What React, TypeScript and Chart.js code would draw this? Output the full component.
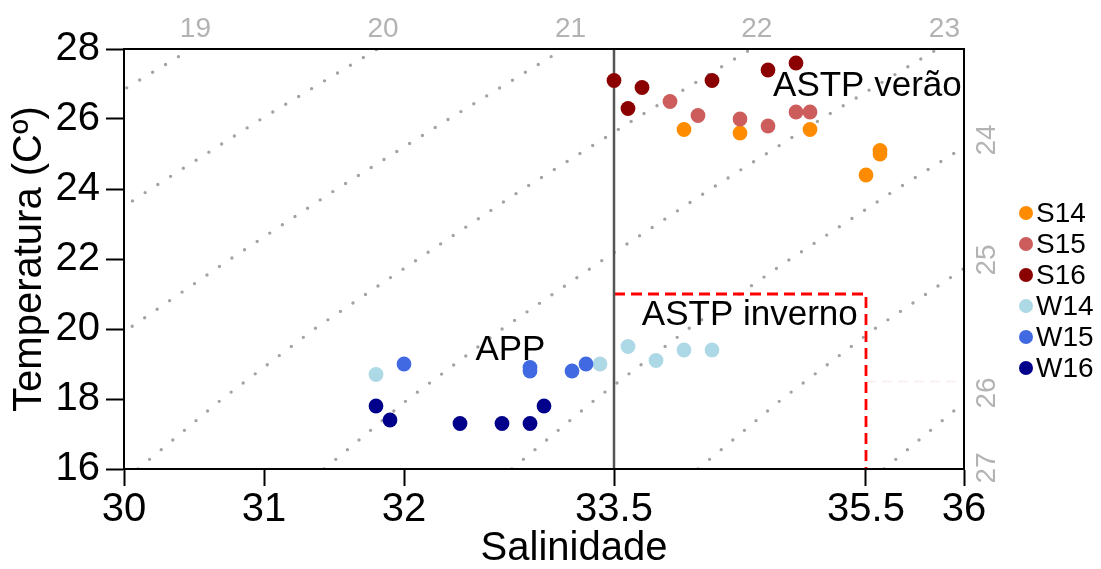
import React, { useEffect, useRef } from "react";
import { Chart, registerables } from "chart.js";

Chart.register(...registerables);

const FONT = "'Liberation Sans', Arial, Helvetica, sans-serif";

// ---- data ----
const seriesNames = ["S14", "S15", "S16", "W14", "W15", "W16"];
const seriesColors = ["#FF8C00", "#CD5C5C", "#8B0000", "#ADD8E6", "#4169E1", "#00008B"];

const s14Sal = [34.0, 34.4, 34.9, 35.4, 35.4, 35.3];
const s14Temp = [25.7, 25.6, 25.7, 25.1, 25.0, 24.4];
const s15Sal = [33.9, 34.1, 34.4, 34.6, 34.8, 34.9];
const s15Temp = [26.5, 26.1, 26.0, 25.8, 26.2, 26.2];
const s16Sal = [33.5, 33.6, 33.7, 34.2, 34.6, 34.8];
const s16Temp = [27.1, 26.3, 26.9, 27.1, 27.4, 27.6];
const w14Sal = [31.8, 33.4, 33.6, 33.8, 34.0, 34.2];
const w14Temp = [18.7, 19.0, 19.5, 19.1, 19.4, 19.4];
const w15Sal = [32.0, 32.9, 32.9, 33.2, 33.3];
const w15Temp = [19.0, 18.9, 18.8, 18.8, 19.0];
const w16Sal = [31.8, 31.9, 32.4, 32.7, 32.9, 33.0];
const w16Temp = [17.8, 17.4, 17.3, 17.3, 17.3, 17.8];

const seriesSal = [s14Sal, s15Sal, s16Sal, w14Sal, w15Sal, w16Sal];
const seriesTemp = [s14Temp, s15Temp, s16Temp, w14Temp, w15Temp, w16Temp];

// density (sigma-t) isolines, salinity read at each temperature
const isoTemps = [16, 18, 20, 22, 24, 26, 28];
const isoLevels = [19, 20, 21, 22, 23, 24, 25, 26];
const iso19Sal = [26.1, 26.7, 27.36, 28.1, 28.85, 29.65, 30.48];
const iso20Sal = [27.43, 28.03, 28.7, 29.43, 30.19, 30.98, 31.81];
const iso21Sal = [28.77, 29.37, 30.03, 30.76, 31.52, 32.32, 33.14];
const iso22Sal = [30.1, 30.7, 31.36, 32.1, 32.85, 33.65, 34.48];
const iso23Sal = [31.43, 32.03, 32.7, 33.43, 34.19, 34.98, 35.81];
const iso24Sal = [32.77, 33.37, 34.03, 34.76, 35.52, 36.32, 37.14];
const iso25Sal = [34.1, 34.7, 35.36, 36.1, 36.85, 37.6, 38.4];
const iso26Sal = [35.43, 36.03, 36.7, 37.4, 38.1, 38.9, 39.7];
const isoSal = [iso19Sal, iso20Sal, iso21Sal, iso22Sal, iso23Sal, iso24Sal, iso25Sal, iso26Sal];

// density labels
const topLabels = ["19", "20", "21", "22", "23"];
const topLabelSal = [30.51, 31.85, 33.19, 34.52, 35.86];
const rightLabels = ["24", "25", "26", "27"];
const rightLabelTemp = [25.4, 21.97, 18.17, 16.03];

// reference lines
const dividerSal = 33.5;
const boxSal = [33.5, 35.3, 35.3];
const boxTemp = [21, 21, 16];
const faintSal = [35.3, 36];
const faintTemp = [18.5, 18.5];

// annotations
const annoTexts = ["ASTP verão", "ASTP inverno", "APP"];
const annoSal = [35.31, 34.47, 32.76];
const annoTemp = [26.97, 20.43, 19.41];

// axes
const xMin = 30;
const xMax = 36;
const yMin = 16;
const yMax = 28;
const xTickValues = [30, 31, 32, 33.5, 35.3, 36];
const xTickLabels = ["30", "31", "32", "33.5", "35.5", "36"];
const xTitle = "Salinidade";
const yTitle = "Temperatura (Cº)";

export default function App() {
  const ref = useRef<HTMLCanvasElement | null>(null);

  useEffect(() => {
    document.body.style.margin = "0";
    const canvas = ref.current;
    if (!canvas) return;

    const pointSets: any[] = seriesNames.map((name, i) => ({
      label: name,
      data: seriesSal[i].map((s, j) => ({ x: s, y: seriesTemp[i][j] })),
      backgroundColor: seriesColors[i],
      pointBackgroundColor: seriesColors[i],
      borderWidth: 0,
      pointBorderWidth: 0,
      pointRadius: 7.4,
      pointHoverRadius: 7.4,
      order: 1 + (seriesNames.length - i),
      _series: true,
    }));

    const isoSets: any[] = isoLevels.map((lvl, k) => ({
      label: "sigma " + lvl,
      data: isoTemps.map((t, j) => ({ x: isoSal[k][j], y: t })),
      showLine: true,
      pointRadius: 0,
      pointHoverRadius: 0,
      borderColor: "#a3a3a3",
      borderWidth: 3.4,
      borderDash: [0, 15.1],
      borderCapStyle: "round",
      fill: false,
      order: 30,
    }));

    const refSets: any[] = [
      {
        label: "divider",
        data: [
          { x: dividerSal, y: yMin },
          { x: dividerSal, y: yMax },
        ],
        showLine: true,
        pointRadius: 0,
        borderColor: "#555555",
        borderWidth: 2.5,
        order: 20,
      },
      {
        label: "astp-box",
        data: boxSal.map((s, j) => ({ x: s, y: boxTemp[j] })),
        showLine: true,
        pointRadius: 0,
        borderColor: "#ff0000",
        borderWidth: 2.8,
        borderDash: [11, 6],
        order: 20,
      },
      {
        label: "faint",
        data: faintSal.map((s, j) => ({ x: s, y: faintTemp[j] })),
        showLine: true,
        pointRadius: 0,
        borderColor: "#fbecec",
        borderWidth: 1.5,
        borderDash: [10, 6],
        order: 21,
      },
    ];

    const overlay = {
      id: "overlay",
      afterDatasetsDraw(chart: any) {
        const c = chart.ctx;
        const xs = chart.scales.x;
        const ys = chart.scales.y;
        c.save();
        c.fillStyle = "#000";
        c.font = `35px ${FONT}`;
        c.textAlign = "center";
        c.textBaseline = "middle";
        annoTexts.forEach((t, i) => {
          c.fillText(t, xs.getPixelForValue(annoSal[i]), ys.getPixelForValue(annoTemp[i]) + 1);
        });
        c.restore();
      },
      afterDraw(chart: any) {
        const c = chart.ctx;
        const a = chart.chartArea;
        const xs = chart.scales.x;
        const ys = chart.scales.y;
        c.save();
        // frame
        c.strokeStyle = "#000";
        c.lineWidth = 2;
        c.strokeRect(a.left, a.top, a.right - a.left, a.bottom - a.top);
        // density labels
        c.fillStyle = "#b3b3b3";
        c.font = `28px ${FONT}`;
        c.textAlign = "center";
        c.textBaseline = "middle";
        topLabels.forEach((t, i) => {
          c.fillText(t, xs.getPixelForValue(topLabelSal[i]), a.top - 20);
        });
        rightLabels.forEach((t, i) => {
          c.save();
          c.translate(a.right + 23, ys.getPixelForValue(rightLabelTemp[i]));
          c.rotate(-Math.PI / 2);
          c.fillText(t, 0, 0);
          c.restore();
        });
        // x title
        c.fillStyle = "#000";
        c.font = `40px ${FONT}`;
        c.fillText(xTitle, a.left + 450, a.bottom + 80);
        // legend
        c.font = `28px ${FONT}`;
        c.textAlign = "left";
        chart.data.datasets.forEach((ds: any, i: number) => {
          if (!ds._series) return;
          const y = a.top + 164 + i * 31;
          c.beginPath();
          c.fillStyle = ds.backgroundColor;
          c.arc(a.right + 62, y, 7, 0, Math.PI * 2);
          c.fill();
          c.fillStyle = "#000";
          c.fillText(ds.label, a.right + 72, y + 1);
        });
        c.restore();
      },
    };

    const chart = new Chart(canvas, {
      type: "scatter",
      data: { datasets: [...pointSets, ...refSets, ...isoSets] },
      options: {
        responsive: false,
        animation: false,
        devicePixelRatio: 1,
        events: [],
        layout: { padding: { left: 0, top: 49, right: 137, bottom: 0 } },
        plugins: { legend: { display: false }, tooltip: { enabled: false } },
        scales: {
          x: {
            type: "linear",
            position: "bottom",
            min: xMin,
            max: xMax,
            afterBuildTicks: (s: any) => {
              s.ticks = xTickValues.map((v) => ({ value: v }));
            },
            afterFit: (s: any) => {
              s.height = 100;
            },
            ticks: {
              font: { family: FONT, size: 40 },
              color: "#000",
              padding: 0,
              autoSkip: false,
              maxRotation: 0,
              callback: (v: any) => {
                const idx = xTickValues.findIndex((t) => Math.abs(t - Number(v)) < 1e-6);
                return idx >= 0 ? xTickLabels[idx] : "";
              },
            },
            grid: {
              drawOnChartArea: false,
              drawTicks: true,
              tickLength: 17,
              tickColor: "#000",
              tickWidth: 2,
            },
            border: { display: true, color: "#000", width: 2 },
          },
          y: {
            type: "linear",
            position: "left",
            min: yMin,
            max: yMax,
            afterFit: (s: any) => {
              s.width = 124;
            },
            ticks: {
              stepSize: 2,
              font: { family: FONT, size: 40 },
              color: "#000",
              padding: 6,
            },
            grid: {
              drawOnChartArea: false,
              drawTicks: true,
              tickLength: 18,
              tickColor: "#000",
              tickWidth: 2,
            },
            border: { display: true, color: "#000", width: 2 },
            title: {
              display: true,
              text: yTitle,
              color: "#000",
              font: { family: FONT, size: 40 },
              padding: { top: 6, bottom: 0 },
            },
          },
        },
      },
      plugins: [overlay],
    } as any);

    return () => chart.destroy();
  }, []);

  return (
    <div style={{ width: 1101, height: 569 }}>
      <canvas ref={ref} width={1101} height={569} style={{ display: "block" }} />
    </div>
  );
}
